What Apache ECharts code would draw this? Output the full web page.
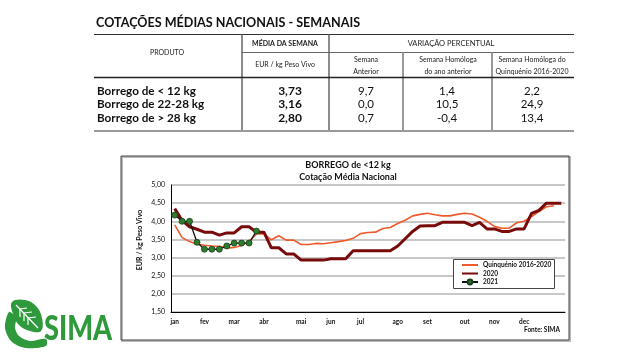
<!DOCTYPE html>
<html><head><meta charset="utf-8">
<script src="https://cdn.jsdelivr.net/npm/echarts/dist/echarts.min.js"></script>
<style>html,body{margin:0;padding:0;background:#fff}#c{width:640px;height:360px}</style>
</head><body><div id="c"></div>
<script>
// ---- Table data ----
var tableTitle = 'COTAÇÕES MÉDIAS NACIONAIS - SEMANAIS';
var products = ['Borrego de < 12 kg', 'Borrego de 22-28 kg', 'Borrego de > 28 kg'];
var mediaSemana = ['3,73', '3,16', '2,80'];
var varSemanaAnterior = ['9,7', '0,0', '0,7'];
var varAnoAnterior = ['1,4', '10,5', '-0,4'];
var varQuinquenio = ['2,2', '24,9', '13,4'];

// ---- Chart data ----
var weeks = [];
for (var i = 1; i <= 53; i++) weeks.push('S' + i);
var monthNames = ['jan','fev','mar','abr','mai','jun','jul','ago','set','out','nov','dec'];
var monthWeeks = [0, 4, 8, 12, 17, 21, 25, 30, 34, 39, 43, 47];
var quinquenio = [3.90,3.55,3.44,3.37,3.34,3.32,3.31,3.26,3.28,3.33,3.45,3.65,3.65,3.49,3.60,3.48,3.48,3.36,
  3.36,3.39,3.38,3.41,3.44,3.47,3.53,3.66,3.69,3.70,3.80,3.83,3.94,4.03,4.15,4.19,4.22,4.18,4.15,4.15,4.19,
  4.22,4.20,4.11,4.00,3.86,3.81,3.81,3.96,4.00,4.13,4.27,4.40,4.43];
var y2020 = [4.35,4.02,3.85,3.78,3.70,3.70,3.62,3.68,3.68,3.85,3.85,3.70,3.70,3.27,3.27,3.10,3.10,2.93,2.93,
  2.93,2.93,2.97,2.97,2.97,3.19,3.19,3.19,3.19,3.19,3.19,3.32,3.52,3.72,3.87,3.88,3.88,3.97,3.97,3.97,3.97,
  3.88,3.97,3.79,3.79,3.72,3.72,3.79,3.79,4.22,4.30,4.50,4.50,4.50];
var y2021 = [4.17,4.00,4.00,3.42,3.23,3.23,3.23,3.32,3.40,3.40,3.40,3.73];
var yTicks = {min: 1.5, max: 5, interval: 0.5};

var FF = 'Lato, "Open Sans", sans-serif';
function T(x, y, text, size, weight, align, color) {
  return {type: 'text', x: x, y: y, silent: true, z: 10,
    style: {text: text, fontSize: size, fontWeight: weight || 'normal', fontFamily: FF,
      fill: color || '#111', textAlign: align || 'left', textVerticalAlign: 'middle'}};
}
function L(x1, y1, x2, y2, color, w) {
  return {type: 'line', silent: true, z: 9, shape: {x1: x1, y1: y1, x2: x2, y2: y2},
    style: {stroke: color, lineWidth: w}};
}

var g = [];
// table
g.push(T(96, 23, tableTitle, 12.6, 'bold', 'left', '#111'));
g.push(L(94, 34.5, 574, 34.5, '#333', 1));
g.push(L(242, 34.5, 242, 131, '#666', 1.5));
g.push(L(329, 34.5, 329, 131, '#666', 1.5));
g.push(L(242, 52.5, 574, 52.5, '#666', 1));
g.push(L(403, 52.5, 403, 131, '#999', 2));
g.push(L(492, 52.5, 492, 131, '#999', 2));
g.push(L(94, 77.5, 574, 77.5, '#222', 1.5));
g.push(L(94, 131, 574, 131, '#999', 2));
g.push(T(167, 53, 'PRODUTO', 7, 'normal', 'center', '#222'));
g.push(T(285, 44, 'MÉDIA DA SEMANA', 7, 'bold', 'center', '#222'));
g.push(T(285, 64.5, 'EUR / kg Peso Vivo', 7, 'normal', 'center', '#222'));
g.push(T(451, 44, 'VARIAÇÃO PERCENTUAL', 7.5, 'normal', 'center', '#222'));
g.push(T(366, 59.5, 'Semana', 7, 'normal', 'center', '#222'));
g.push(T(366, 71.5, 'Anterior', 7, 'normal', 'center', '#222'));
g.push(T(448, 59.5, 'Semana Homóloga', 7, 'normal', 'center', '#222'));
g.push(T(448, 71.5, 'do ano anterior', 7, 'normal', 'center', '#222'));
g.push(T(532, 59.5, 'Semana Homóloga do', 7, 'normal', 'center', '#222'));
g.push(T(532, 71.5, 'Quinquénio 2016-2020', 7, 'normal', 'center', '#222'));
var rowY = [91, 104.5, 118];
for (var r = 0; r < products.length; r++) {
  g.push(T(97, rowY[r], products[r], 11.7, 'bold', 'left', '#111'));
  g.push(T(290, rowY[r], mediaSemana[r], 12, 'bold', 'center', '#111'));
  g.push(T(366, rowY[r], varSemanaAnterior[r], 11.5, 'normal', 'center', '#111'));
  g.push(T(447, rowY[r], varAnoAnterior[r], 11.5, 'normal', 'center', '#111'));
  g.push(T(532, rowY[r], varQuinquenio[r], 11.5, 'normal', 'center', '#111'));
}
// chart frame
g.push({type: 'rect', silent: true, z: 0, shape: {x: 122, y: 157, width: 448, height: 184},
  style: {fill: 'none', stroke: '#bbb', lineWidth: 2}});
g.push({type: 'rect', silent: true, z: 1, shape: {x: 121, y: 156, width: 448, height: 184},
  style: {fill: 'none', stroke: '#444', lineWidth: 1}});
g.push(T(348, 165, 'BORREGO de <12 kg', 9, 'bold', 'center', '#111'));
g.push(T(348, 177, 'Cotação Média Nacional', 9, 'bold', 'center', '#111'));
g.push(T(560, 329.5, 'Fonte: SIMA', 6.5, 'bold', 'right', '#111'));
g.push({type: 'text', x: 140, y: 240, rotation: Math.PI / 2, silent: true, z: 10,
  style: {text: 'EUR / kg Peso Vivo', fontSize: 7, fontWeight: 'bold', fontFamily: FF, fill: '#111',
    textAlign: 'center', textVerticalAlign: 'middle'}});
// legend frame
g.push({type: 'rect', silent: true, z: 1, shape: {x: 453.5, y: 259.5, width: 101, height: 29},
  style: {fill: '#fff', stroke: '#444', lineWidth: 1}});
// logo
g.push({type: 'polygon', silent: true, z: 5, shape: {smooth: 0.4, points:
  [[12,302],[25,300],[36,306],[42,318],[41,331],[30,331],[19,325],[13,314]]}, style: {fill: '#2e9a3c'}});
g.push({type: 'polyline', silent: true, z: 6, shape: {points: [[16,305],[38,328]]},
  style: {stroke: '#fff', lineWidth: 1.3, fill: 'none'}});
g.push({type: 'polyline', silent: true, z: 6, shape: {points: [[20,317],[20,309],[27,308]]},
  style: {stroke: '#fff', lineWidth: 1.2, fill: 'none'}});
g.push({type: 'polyline', silent: true, z: 6, shape: {points: [[24,321],[24,313],[32,312]]},
  style: {stroke: '#fff', lineWidth: 1.2, fill: 'none'}});
g.push({type: 'polyline', silent: true, z: 6, shape: {points: [[28,325],[28,318],[36,317]]},
  style: {stroke: '#fff', lineWidth: 1.2, fill: 'none'}});
g.push({type: 'polygon', silent: true, z: 5, shape: {smooth: 0.3, points:
  [[9,312],[5,328],[12,342],[26,348],[46,346],[46,339],[30,341],[19,336],[15,328],[16,318]]},
  style: {fill: '#2e9a3c'}});
g.push({type: 'text', x: 44, y: 329, silent: true, z: 5, scaleX: 0.8,
  style: {text: 'SIMA', fontSize: 34, fontWeight: 900, fontFamily: FF, fill: '#2e9a3c',
    textAlign: 'left', textVerticalAlign: 'middle'}});

var chart = echarts.init(document.getElementById('c'), null, {renderer: 'canvas'});
chart.setOption({
  backgroundColor: '#fff',
  animation: false,
  textStyle: {fontFamily: FF},
  grid: {left: 171, right: 75, top: 185, bottom: 48},
  legend: {
    orient: 'vertical', left: 461, top: 261.5, itemGap: 1.5, itemWidth: 16, itemHeight: 6, padding: 0,
    textStyle: {fontSize: 6.5, fontWeight: 'bold', color: '#111', fontFamily: FF},
    data: [
      {name: 'Quinquénio 2016-2020', itemStyle: {opacity: 0}},
      {name: '2020', itemStyle: {opacity: 0}},
      '2021'
    ], z: 20
  },
  xAxis: {
    type: 'category', data: weeks, boundaryGap: true,
    axisLine: {lineStyle: {color: '#000', width: 1}},
    axisTick: {interval: 0, length: 3, lineStyle: {color: '#000'}},
    axisLabel: {interval: 0, fontSize: 6.5, fontWeight: 'bold', color: '#111', margin: 6,
      formatter: function (v, idx) { var k = monthWeeks.indexOf(idx); return k >= 0 ? monthNames[k] : ''; }},
    splitLine: {show: false}
  },
  yAxis: {
    type: 'value', min: yTicks.min, max: yTicks.max, interval: yTicks.interval,
    axisLine: {show: true, lineStyle: {color: '#000', width: 1}},
    axisTick: {show: false},
    axisLabel: {fontSize: 7, color: '#111', margin: 6,
      formatter: function (v) { return v.toFixed(2).replace('.', ','); }},
    splitLine: {lineStyle: {color: '#b4b4b4', width: 1.5}}
  },
  series: [
    {name: 'Quinquénio 2016-2020', type: 'line', data: quinquenio, symbol: 'none',
      lineStyle: {color: '#ee5a2c', width: 1.6}, itemStyle: {color: '#ee5a2c'}, z: 2},
    {name: '2020', type: 'line', data: y2020, symbol: 'none',
      lineStyle: {color: '#780a0a', width: 3}, itemStyle: {color: '#780a0a'}, z: 3},
    {name: '2021', type: 'line', data: y2021, symbol: 'circle', symbolSize: 6,
      lineStyle: {color: '#111', width: 1.3},
      itemStyle: {color: '#2e7d2e', borderColor: '#1a3d1a', borderWidth: 0.8}, z: 4}
  ],
  graphic: g
});
</script></body></html>
